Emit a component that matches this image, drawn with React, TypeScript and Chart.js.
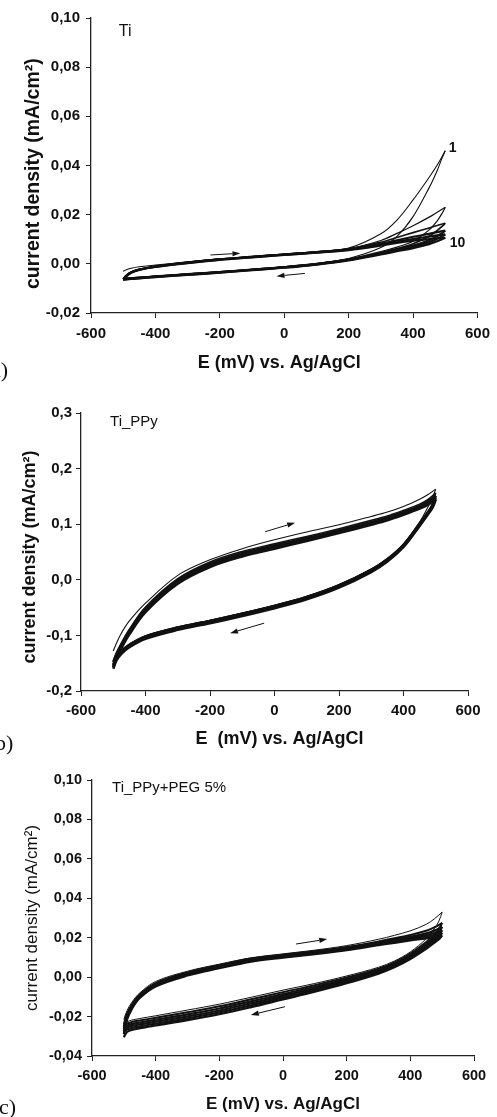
import React, { useEffect, useRef } from "react";
import { Chart, registerables } from "chart.js";

Chart.register(...registerables);

// ---------- shared potentials (mV) ----------
const E_FWD = [-500, -490, -475, -450, -400, -300, -200, -100, 0, 100, 200, 300, 350, 400, 450, 475, 500];
const E_REV = [500, 490, 475, 450, 400, 350, 300, 200, 100, 0, -100, -200, -300, -400, -450, -475, -490, -500];

const X_TICKS = ["-600", "-400", "-200", "0", "200", "400", "600"];

// ---------- panel a : Ti ----------
const A_CYCLES = ["1", "2", "3", "5", "7", "10"];
const A_FWD = [
  [-0.0030, -0.0024, -0.0018, -0.0012, -0.0005, 0.0008, 0.0020, 0.0030, 0.0040, 0.0050, 0.0064, 0.0122, 0.0178, 0.0260, 0.0352, 0.0402, 0.0460],
  [-0.0060, -0.0046, -0.0032, -0.0021, -0.0009, 0.0007, 0.0020, 0.0030, 0.0040, 0.0049, 0.0062, 0.0095, 0.0124, 0.0155, 0.0190, 0.0210, 0.0230],
  [-0.0061, -0.0047, -0.0033, -0.0022, -0.0010, 0.0006, 0.0019, 0.0029, 0.0039, 0.0048, 0.0061, 0.0088, 0.0107, 0.0127, 0.0146, 0.0156, 0.0165],
  [-0.0062, -0.0048, -0.0034, -0.0023, -0.0011, 0.0005, 0.0018, 0.0028, 0.0038, 0.0047, 0.0060, 0.0082, 0.0096, 0.0110, 0.0122, 0.0129, 0.0135],
  [-0.0063, -0.0049, -0.0035, -0.0024, -0.0012, 0.0004, 0.0017, 0.0027, 0.0037, 0.0046, 0.0058, 0.0078, 0.0090, 0.0101, 0.0111, 0.0116, 0.0120],
  [-0.0064, -0.0050, -0.0036, -0.0025, -0.0013, 0.0003, 0.0016, 0.0026, 0.0036, 0.0045, 0.0056, 0.0074, 0.0085, 0.0094, 0.0101, 0.0104, 0.0106],
];
const A_REV = [
  [0.0460, 0.0430, 0.0380, 0.0310, 0.0192, 0.0112, 0.0066, 0.0022, 0.0002, -0.0011, -0.0021, -0.0031, -0.0040, -0.0049, -0.0054, -0.0056, -0.0058, -0.0060],
  [0.0230, 0.0205, 0.0175, 0.0138, 0.0092, 0.0068, 0.0050, 0.0020, 0.0001, -0.0012, -0.0022, -0.0032, -0.0041, -0.0050, -0.0055, -0.0057, -0.0059, -0.0061],
  [0.0165, 0.0152, 0.0136, 0.0112, 0.0082, 0.0062, 0.0046, 0.0018, 0.0000, -0.0013, -0.0023, -0.0033, -0.0042, -0.0051, -0.0056, -0.0058, -0.0060, -0.0062],
  [0.0135, 0.0125, 0.0113, 0.0096, 0.0074, 0.0058, 0.0043, 0.0017, -0.0001, -0.0014, -0.0024, -0.0034, -0.0043, -0.0052, -0.0057, -0.0059, -0.0061, -0.0063],
  [0.0120, 0.0112, 0.0102, 0.0088, 0.0069, 0.0055, 0.0041, 0.0016, -0.0002, -0.0015, -0.0025, -0.0035, -0.0044, -0.0053, -0.0058, -0.0060, -0.0062, -0.0064],
  [0.0106, 0.0100, 0.0092, 0.0080, 0.0064, 0.0051, 0.0038, 0.0014, -0.0003, -0.0016, -0.0026, -0.0036, -0.0045, -0.0054, -0.0059, -0.0061, -0.0063, -0.0065],
];
const A_Y_TICKS = ["-0,02", "0,00", "0,02", "0,04", "0,06", "0,08", "0,10"];

// ---------- panel b : Ti_PPy ----------
const B_CYCLES = ["1", "2", "4", "7", "10"];
const B_FWD = [
  [-0.128, -0.114, -0.096, -0.074, -0.042, 0.008, 0.036, 0.056, 0.072, 0.086, 0.099, 0.114, 0.122, 0.132, 0.145, 0.153, 0.163],
  [-0.146, -0.131, -0.114, -0.089, -0.049, 0.002, 0.032, 0.051, 0.065, 0.078, 0.092, 0.107, 0.115, 0.125, 0.136, 0.144, 0.156],
  [-0.148, -0.134, -0.117, -0.092, -0.052, -0.001, 0.029, 0.048, 0.062, 0.075, 0.089, 0.104, 0.112, 0.122, 0.133, 0.141, 0.151],
  [-0.153, -0.137, -0.120, -0.095, -0.055, -0.004, 0.026, 0.045, 0.059, 0.072, 0.086, 0.101, 0.109, 0.119, 0.130, 0.138, 0.147],
  [-0.157, -0.141, -0.123, -0.098, -0.058, -0.007, 0.023, 0.042, 0.056, 0.070, 0.084, 0.099, 0.107, 0.117, 0.128, 0.135, 0.144],
];
const B_REV = [
  [0.163, 0.148, 0.130, 0.104, 0.064, 0.038, 0.019, -0.009, -0.030, -0.046, -0.060, -0.073, -0.085, -0.101, -0.116, -0.128, -0.138, -0.146],
  [0.156, 0.137, 0.122, 0.102, 0.064, 0.038, 0.019, -0.009, -0.030, -0.046, -0.060, -0.073, -0.085, -0.101, -0.116, -0.127, -0.138, -0.148],
  [0.151, 0.134, 0.121, 0.101, 0.063, 0.037, 0.018, -0.010, -0.031, -0.047, -0.061, -0.074, -0.086, -0.102, -0.117, -0.129, -0.140, -0.153],
  [0.147, 0.132, 0.119, 0.099, 0.061, 0.035, 0.016, -0.012, -0.033, -0.049, -0.063, -0.076, -0.088, -0.104, -0.119, -0.131, -0.142, -0.157],
  [0.144, 0.130, 0.117, 0.097, 0.059, 0.033, 0.014, -0.014, -0.035, -0.051, -0.065, -0.078, -0.090, -0.106, -0.121, -0.133, -0.145, -0.160],
];
const B_Y_TICKS = ["-0,2", "-0,1", "0,0", "0,1", "0,2", "0,3"];

// ---------- panel c : Ti_PPy+PEG 5% ----------
const C_CYCLES = ["1", "2", "3", "5", "7", "10"];
const C_FWD = [
  [-0.0215, -0.0170, -0.0128, -0.0080, -0.0022, 0.0030, 0.0066, 0.0098, 0.0118, 0.0137, 0.0160, 0.0192, 0.0212, 0.0235, 0.0268, 0.0295, 0.0330],
  [-0.0240, -0.0186, -0.0140, -0.0088, -0.0030, 0.0024, 0.0061, 0.0094, 0.0114, 0.0132, 0.0153, 0.0181, 0.0197, 0.0214, 0.0235, 0.0252, 0.0275],
  [-0.0250, -0.0192, -0.0145, -0.0092, -0.0034, 0.0020, 0.0057, 0.0091, 0.0111, 0.0129, 0.0149, 0.0175, 0.0190, 0.0205, 0.0222, 0.0236, 0.0255],
  [-0.0262, -0.0200, -0.0150, -0.0097, -0.0038, 0.0016, 0.0053, 0.0087, 0.0107, 0.0125, 0.0145, 0.0170, 0.0184, 0.0198, 0.0213, 0.0224, 0.0238],
  [-0.0275, -0.0208, -0.0156, -0.0101, -0.0042, 0.0012, 0.0049, 0.0083, 0.0103, 0.0121, 0.0141, 0.0166, 0.0179, 0.0192, 0.0205, 0.0214, 0.0225],
  [-0.0290, -0.0216, -0.0162, -0.0106, -0.0047, 0.0008, 0.0045, 0.0079, 0.0099, 0.0117, 0.0137, 0.0162, 0.0174, 0.0186, 0.0197, 0.0204, 0.0212],
];
const C_REV = [
  [0.0330, 0.0285, 0.0245, 0.0195, 0.0128, 0.0082, 0.0050, 0.0006, -0.0032, -0.0066, -0.0102, -0.0137, -0.0167, -0.0196, -0.0210, -0.0218, -0.0226, -0.0236],
  [0.0275, 0.0245, 0.0215, 0.0178, 0.0120, 0.0075, 0.0043, -0.0002, -0.0041, -0.0076, -0.0112, -0.0148, -0.0178, -0.0206, -0.0220, -0.0228, -0.0235, -0.0245],
  [0.0255, 0.0228, 0.0202, 0.0168, 0.0112, 0.0068, 0.0036, -0.0010, -0.0050, -0.0086, -0.0123, -0.0159, -0.0189, -0.0216, -0.0230, -0.0238, -0.0245, -0.0255],
  [0.0238, 0.0214, 0.0192, 0.0160, 0.0105, 0.0062, 0.0030, -0.0017, -0.0058, -0.0095, -0.0133, -0.0169, -0.0199, -0.0226, -0.0240, -0.0248, -0.0255, -0.0266],
  [0.0225, 0.0203, 0.0183, 0.0152, 0.0098, 0.0056, 0.0024, -0.0024, -0.0066, -0.0104, -0.0143, -0.0179, -0.0209, -0.0236, -0.0250, -0.0258, -0.0266, -0.0280],
  [0.0212, 0.0192, 0.0174, 0.0144, 0.0092, 0.0050, 0.0018, -0.0031, -0.0074, -0.0113, -0.0152, -0.0188, -0.0218, -0.0245, -0.0259, -0.0268, -0.0278, -0.0305],
];
const C_Y_TICKS = ["-0,04", "-0,02", "0,00", "0,02", "0,04", "0,06", "0,08", "0,10"];

// ---------- annotations (data coordinates) ----------
const A_ARROWS = [
  { e0: -229, j0: 0.0036, e1: -136, j1: 0.0043 },
  { e0: 64, j0: -0.0039, e1: -24, j1: -0.0050 },
];
const B_ARROWS = [
  { e0: -29, j0: 0.0865, e1: 64, j1: 0.1027 },
  { e0: -32, j0: -0.078, e1: -138, j1: -0.096 },
];
const C_ARROWS = [
  { e0: 41, j0: 0.0168, e1: 139, j1: 0.0193 },
  { e0: 6, j0: -0.015, e1: -101, j1: -0.0192 },
];

const SANS = "'Liberation Sans', Arial, sans-serif";
const INK = "#111111";

const PANELS = [
  {
    key: "a", top: 0, height: 380,
    fwd: A_FWD, rev: A_REV, cycles: A_CYCLES, widths: [1.1, 1.2, 1.6, 2.2, 2.2, 2.2],
    yMin: -0.02, yMax: 0.1, yStep: 0.02, yTicks: A_Y_TICKS,
    padding: { top: 18, right: 16, bottom: 6, left: 0 },
    yWidth: 91, xHeight: 61, xTickPad: 7, yTickPad: 6, tickSize: 15,
    xTitle: "E (mV) vs. Ag/AgCl  ", xTitleSize: 18,
    yTitle: "current density (mA/cm²)   ", yTitleSize: 19.5, yTitleWeight: "bold", yTitlePad: 22,
    arrows: A_ARROWS,
    texts: [
      { text: "Ti", e: -514, j: 0.0943, size: 16, weight: "normal" },
      { text: "1", e: 511, j: 0.0470, size: 14, weight: "bold" },
      { text: "10", e: 514, j: 0.0085, size: 14, weight: "bold" },
    ],
  },
  {
    key: "b", top: 380, height: 370,
    fwd: B_FWD, rev: B_REV, cycles: B_CYCLES, widths: [1.1, 1.5, 2.6, 2.6, 2.6],
    yMin: -0.2, yMax: 0.3, yStep: 0.1, yTicks: B_Y_TICKS,
    padding: { top: 33, right: 29, bottom: 0, left: 0 },
    yWidth: 81, xHeight: 59, xTickPad: 6, yTickPad: 4, tickSize: 15,
    xTitle: "  E  (mV) vs. Ag/AgCl", xTitleSize: 18,
    yTitle: "current density (mA/cm²)  ", yTitleSize: 18, yTitleWeight: "bold", yTitlePad: 19,
    arrows: B_ARROWS,
    texts: [{ text: "Ti_PPy", e: -510, j: 0.284, size: 15, weight: "normal" }],
  },
  {
    key: "c", top: 750, height: 367,
    fwd: C_FWD, rev: C_REV, cycles: C_CYCLES, widths: [1.0, 2.0, 2.2, 2.2, 2.2, 2.2],
    yMin: -0.04, yMax: 0.1, yStep: 0.02, yTicks: C_Y_TICKS,
    padding: { top: 30, right: 23, bottom: 2, left: 0 },
    yWidth: 92, xHeight: 59, xTickPad: 6, yTickPad: 5, tickSize: 14.5,
    xTitle: "E (mV) vs. Ag/AgCl", xTitleSize: 17,
    yTitle: "current density (mA/cm²)", yTitleSize: 17, yTitleWeight: "normal", yTitlePad: 22,
    arrows: C_ARROWS,
    texts: [{ text: "Ti_PPy+PEG 5%", e: -537, j: 0.0959, size: 15, weight: "normal" }],
  },
];

const PANEL_LABELS = [
  { text: "a)", left: -9, top: 359 },
  { text: "b)", left: -5, top: 732 },
  { text: "c)", left: -1, top: 1096 },
];

function labelFor(list: string[], value: number) {
  let best = "";
  let bestD = Infinity;
  for (const s of list) {
    const d = Math.abs(parseFloat(s.replace(",", ".")) - value);
    if (d < bestD) { bestD = d; best = s; }
  }
  return bestD < 1e-6 ? best : "";
}

function makeAnnotationPlugin(p: any) {
  return {
    id: "annot_" + p.key,
    afterDatasetsDraw(chart: any) {
      const { ctx, scales } = chart;
      const x = scales.x;
      const y = scales.y;
      ctx.save();
      ctx.strokeStyle = INK;
      ctx.fillStyle = INK;
      ctx.lineWidth = 1;
      for (const a of p.arrows) {
        const x0 = x.getPixelForValue(a.e0), y0 = y.getPixelForValue(a.j0);
        const x1 = x.getPixelForValue(a.e1), y1 = y.getPixelForValue(a.j1);
        const ang = Math.atan2(y1 - y0, x1 - x0);
        const hl = 8, hw = 2.6;
        const bx = x1 - hl * Math.cos(ang), by = y1 - hl * Math.sin(ang);
        ctx.beginPath();
        ctx.moveTo(x0, y0);
        ctx.lineTo(bx, by);
        ctx.stroke();
        ctx.beginPath();
        ctx.moveTo(x1, y1);
        ctx.lineTo(bx + hw * Math.sin(ang), by - hw * Math.cos(ang));
        ctx.lineTo(bx - hw * Math.sin(ang), by + hw * Math.cos(ang));
        ctx.closePath();
        ctx.fill();
      }
      ctx.textAlign = "left";
      ctx.textBaseline = "middle";
      for (const t of p.texts) {
        ctx.font = `${t.weight} ${t.size}px ${SANS}`;
        ctx.fillText(t.text, x.getPixelForValue(t.e), y.getPixelForValue(t.j));
      }
      ctx.restore();
    },
  };
}

function CVPanel({ p }: { p: any }) {
  const ref = useRef<HTMLCanvasElement | null>(null);
  useEffect(() => {
    if (!ref.current) return;
    const datasets: any[] = [];
    p.cycles.forEach((c: string, i: number) => {
      const w = p.widths[i];
      datasets.push({
        label: `cycle ${c} anodic`,
        data: E_FWD.map((e, k) => ({ x: e, y: p.fwd[i][k] })),
        showLine: true, borderColor: INK, borderWidth: w, pointRadius: 0,
        tension: 0.35, fill: false,
      });
      datasets.push({
        label: `cycle ${c} cathodic`,
        data: E_REV.map((e, k) => ({ x: e, y: p.rev[i][k] })),
        showLine: true, borderColor: INK, borderWidth: w, pointRadius: 0,
        tension: 0.35, fill: false,
      });
    });
    const tickFont = { family: SANS, size: p.tickSize, weight: "bold" as const };
    const chart = new Chart(ref.current, {
      type: "scatter",
      data: { datasets },
      options: {
        responsive: false,
        animation: false,
        layout: { padding: p.padding },
        plugins: { legend: { display: false }, tooltip: { enabled: false } },
        scales: {
          x: {
            type: "linear", min: -600, max: 600,
            ticks: {
              stepSize: 200, color: INK, font: tickFont, padding: p.xTickPad, maxRotation: 0,
              callback: (v: any) => labelFor(X_TICKS, Number(v)),
            },
            grid: { drawOnChartArea: false, drawTicks: true, tickLength: 5, color: "#222", lineWidth: 1 },
            border: { display: true, color: "#222", width: 1.3 },
            title: {
              display: true, text: p.xTitle, color: INK,
              font: { family: SANS, size: p.xTitleSize, weight: "bold" },
              padding: { top: 0, bottom: 0 },
            },
            afterFit: (s: any) => { s.height = p.xHeight; },
          },
          y: {
            type: "linear", min: p.yMin, max: p.yMax,
            ticks: {
              stepSize: p.yStep, color: INK, font: tickFont, padding: p.yTickPad,
              callback: (v: any) => labelFor(p.yTicks, Number(v)),
            },
            grid: { drawOnChartArea: false, drawTicks: true, tickLength: 5, color: "#222", lineWidth: 1 },
            border: { display: true, color: "#222", width: 1.3 },
            title: {
              display: true, text: p.yTitle, color: INK,
              font: { family: SANS, size: p.yTitleSize, weight: p.yTitleWeight },
              padding: { top: p.yTitlePad, bottom: 0 },
            },
            afterFit: (s: any) => { s.width = p.yWidth; },
          },
        },
      } as any,
      plugins: [makeAnnotationPlugin(p)],
    });
    return () => chart.destroy();
  }, [p]);
  return (
    <canvas
      ref={ref}
      width={497}
      height={p.height}
      style={{ position: "absolute", left: 0, top: p.top, width: 497, height: p.height }}
    />
  );
}

export default function App() {
  return (
    <div style={{ position: "absolute", left: 0, top: 0, width: 497, height: 1117, background: "#fff", overflow: "hidden" }}>
      {PANELS.map((p) => (
        <CVPanel key={p.key} p={p} />
      ))}
      {PANEL_LABELS.map((l) => (
        <div
          key={l.text}
          style={{
            position: "absolute", left: l.left, top: l.top, fontFamily: "'Liberation Serif', 'Times New Roman', serif",
            fontSize: 22, lineHeight: "22px", color: INK, whiteSpace: "nowrap",
          }}
        >
          {l.text}
        </div>
      ))}
    </div>
  );
}
